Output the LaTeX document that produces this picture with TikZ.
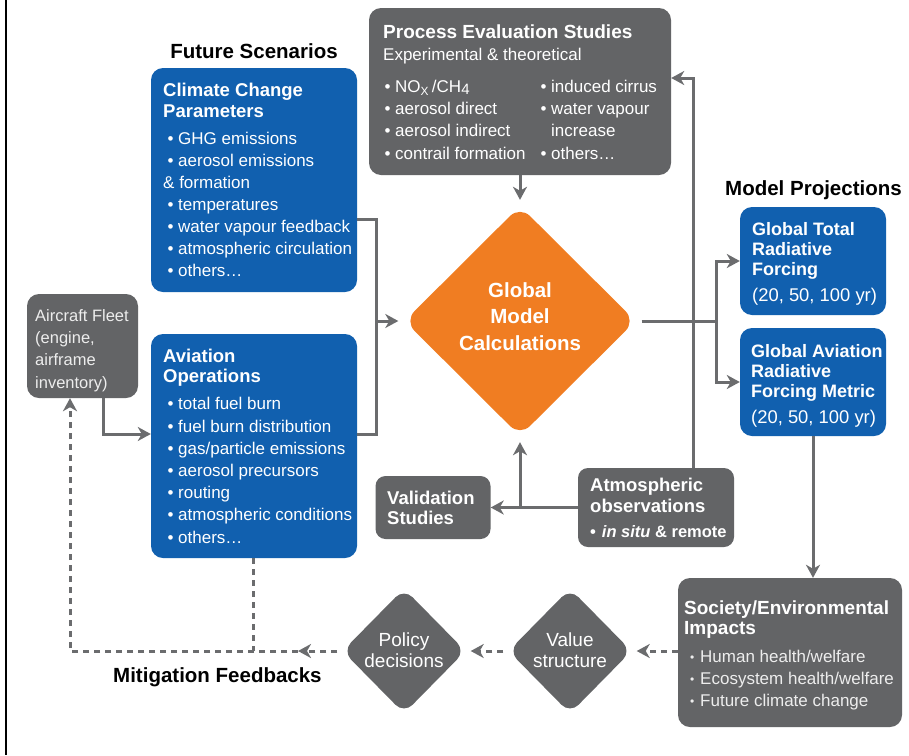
\documentclass[tikz,border=0pt]{standalone}
\usepackage{fontspec}
\setmainfont{Liberation Sans}
\usetikzlibrary{arrows.meta,shapes.geometric}
\definecolor{panelblue}{HTML}{1160AF}
\definecolor{panelgray}{HTML}{636466}
\definecolor{calcorange}{HTML}{F07D22}
\definecolor{wiregray}{HTML}{6B6C6E}
\definecolor{paletext}{HTML}{EDEDED}
% bullet markers: regular bullet and a smaller one for the impacts list
\newcommand\bul{\makebox[15pt][c]{\textbullet}}
\newcommand\sdot{\makebox[16pt][c]{\raisebox{1pt}{\fontsize{12}{12}\selectfont\textbullet}}}

\begin{document}
% multi-line text nodes are placed by the baseline of their last line
\begin{tikzpicture}[x=1pt,y=-1pt,
  panel/.style={rectangle, rounded corners=12pt, inner sep=0pt},
  bluepanel/.style={panel, fill=panelblue},
  graypanel/.style={panel, fill=panelgray},
  rhomb/.style={diamond, inner sep=0pt, rounded corners=12pt},
  headtxt/.style={anchor=base west, inner sep=0pt, align=left, text=white,
    font=\bfseries\fontsize{18.5}{21}\selectfont},
  bodytxt/.style={anchor=base west, inner sep=0pt, align=left, text=white,
    font=\fontsize{17}{22.1}\selectfont},
  sectiontxt/.style={anchor=base west, inner sep=0pt, text=black,
    font=\bfseries\fontsize{20.5}{24}\selectfont},
  rhombtxt/.style={anchor=base, inner sep=0pt, align=center, text=white,
    font=\fontsize{19}{21}\selectfont},
  wire/.style={draw=wiregray, line width=3pt},
  arr/.style={wire, -{Stealth[length=13pt,width=14pt,inset=4pt]}},
  dwire/.style={wire, dash pattern=on 6pt off 5pt},
  darr/.style={dwire, -{Stealth[length=13pt,width=14pt,inset=4pt]}},
]
\useasboundingbox (0,0) rectangle (909,755);
\fill[white] (0,0) rectangle (909,755);
\draw[line width=2pt] (6,0) -- (6,755);

% ---------- panels ----------
\node[bluepanel, minimum width=206pt, minimum height=224pt] (ccp) at (254,180) {};
\node[bluepanel, minimum width=206pt, minimum height=224pt] (avo) at (254,446) {};
\node[graypanel, minimum width=111pt, minimum height=104pt] (acf) at (82.5,346) {};
\node[graypanel, minimum width=302pt, minimum height=167pt] (pes) at (520,91.5) {};
\node[diamond, fill=calcorange, inner sep=0pt, rounded corners=14pt,
      minimum width=231pt, minimum height=230pt] (gmc) at (520,321) {};
\node[bluepanel, minimum width=146pt, minimum height=108pt] (gtrf) at (813,261) {};
\node[bluepanel, minimum width=146pt, minimum height=108pt] (garf) at (813,382) {};
\node[graypanel, rounded corners=10pt, minimum width=115pt, minimum height=63pt] (val) at (433,507.5) {};
\node[graypanel, rounded corners=10pt, minimum width=156pt, minimum height=79pt] (aobs) at (656,507.5) {};
\node[graypanel, minimum width=224pt, minimum height=149pt] (sei) at (790,652.5) {};
\node[rhomb, fill=panelgray, minimum width=123pt, minimum height=125pt] (vs) at (570,651) {};
\node[rhomb, fill=panelgray, minimum width=123pt, minimum height=125pt] (pd) at (404,651) {};

% ---------- section headings ----------
\node[sectiontxt, anchor=base] (fs) at (254,58) {Future Scenarios};
\node[sectiontxt] (mp) at (725,195) {Model Projections};
\node[sectiontxt] (mf) at (113,682) {Mitigation Feedbacks};

% ---------- panel texts ----------
\node[headtxt] (ccp-h) at (163,117) {Climate Change\\Parameters};
\node[bodytxt] (ccp-b) at (163,276.6) {\bul GHG emissions\\\bul aerosol emissions\\\& formation\\\bul temperatures\\\bul water vapour feedback\\\bul atmospheric circulation\\\bul others…};

\node[headtxt, font=\bfseries\fontsize{18.5}{20}\selectfont] (avo-h) at (163,382) {Aviation\\Operations};
\node[bodytxt, font=\fontsize{17}{22.2}\selectfont] (avo-b) at (163,543) {\bul total fuel burn\\\bul fuel burn distribution\\\bul gas/particle emissions\\\bul aerosol precursors\\\bul routing\\\bul atmospheric conditions\\\bul others…};

\node[bodytxt, text=paletext, font=\fontsize{16.5}{22.3}\selectfont] (acf-t) at (35,388) {Aircraft Fleet\\(engine,\\airframe\\inventory)};

\node[headtxt, font=\bfseries\fontsize{19}{21}\selectfont] (pes-h) at (383,38) {Process Evaluation Studies};
\node[bodytxt] (pes-s) at (383,60) {Experimental \& theoretical};
\node[bodytxt] (pes-l) at (380,159) {\bul NO\textsubscript{X}\,/CH\raisebox{-2pt}{\fontsize{15}{15}\selectfont 4}\\\bul aerosol direct\\\bul aerosol indirect\\\bul contrail formation};
\node[bodytxt] (pes-r) at (536,159) {\bul induced cirrus\\\bul water vapour\\\hspace*{15pt}increase\\\bul others…};

\node[rhombtxt, font=\bfseries\fontsize{20.5}{26.5}\selectfont] (gmc-t) at (520,350) {Global\\Model\\Calculations};

\node[headtxt, font=\bfseries\fontsize{18}{20}\selectfont] (gtrf-h) at (752,275) {Global Total\\Radiative\\Forcing};
\node[bodytxt, font=\fontsize{18.4}{20}\selectfont] (gtrf-y) at (752,301) {(20, 50, 100 yr)};
\node[headtxt, font=\bfseries\fontsize{18}{20}\selectfont] (garf-h) at (751,397) {Global Aviation\\Radiative\\Forcing Metric};
\node[bodytxt, font=\fontsize{18.4}{20}\selectfont] (garf-y) at (751,423) {(20, 50, 100 yr)};

\node[headtxt, font=\bfseries\fontsize{18.5}{20}\selectfont] (val-h) at (387,524) {Validation\\Studies};
\node[headtxt] (aobs-h) at (590,512) {Atmospheric\\observations};
\node[bodytxt, font=\bfseries\fontsize{16.5}{20}\selectfont] (aobs-b) at (590,537) {\textbullet\hspace{6pt}\textit{in situ} \& remote};

\node[headtxt, font=\bfseries\fontsize{19}{20}\selectfont] (sei-h) at (684,634) {Society/Environmental\\Impacts};
\node[bodytxt, text=paletext, font=\fontsize{17}{22.2}\selectfont] (sei-b) at (684,706.4) {\sdot Human health/welfare\\\sdot Ecosystem health/welfare\\\sdot Future climate change};

\node[rhombtxt] (vs-t) at (570,667) {Value\\structure};
\node[rhombtxt] (pd-t) at (404,667) {Policy\\decisions};

% ---------- connectors ----------
\coordinate (merge) at (376,321);
\coordinate (split) at (716,321);
\draw[wire] (ccp.east |- 0,219) -| (merge);
\draw[wire] (avo.east |- 0,434) -| (merge);
\draw[arr, shorten >=6pt] (merge) -- (gmc.west);
\draw[arr, shorten >=6pt] (pes.south) -- (gmc.north);
\draw[arr] (acf.south -| 103,0) |- (avo.west |- 0,434);
\draw[arr] (aobs.north -| 693,0) |- (pes.east |- 0,78);
\draw[wire, shorten <=6pt] (gmc.east) -- (split);
\draw[arr] (split) |- (gtrf.west);
\draw[arr] (split) |- (garf.west);
\draw[arr] (aobs.west) -- (val.east);
\draw[arr, shorten >=6pt] (gmc.south |- aobs.west) -- (gmc.south);
\draw[arr] (garf.south) -- (garf.south |- sei.north);

% mitigation feedback loop (dashed)
\coordinate (fb-mid) at (298,651);
\coordinate (fb-corner) at (70,651);
\draw[darr, shorten >=5pt] (sei.west |- vs.east) -- (vs.east);
\draw[darr, shorten <=5pt, shorten >=5pt] (vs.west) -- (pd.east);
\draw[darr, shorten <=5pt] (pd.west) -- (fb-mid);
\draw[darr] (fb-mid) -- (fb-corner) -- (acf.south -| fb-corner);
\draw[dwire] (avo.south -| 253,0) -- (253,651);
\end{tikzpicture}
\end{document}
